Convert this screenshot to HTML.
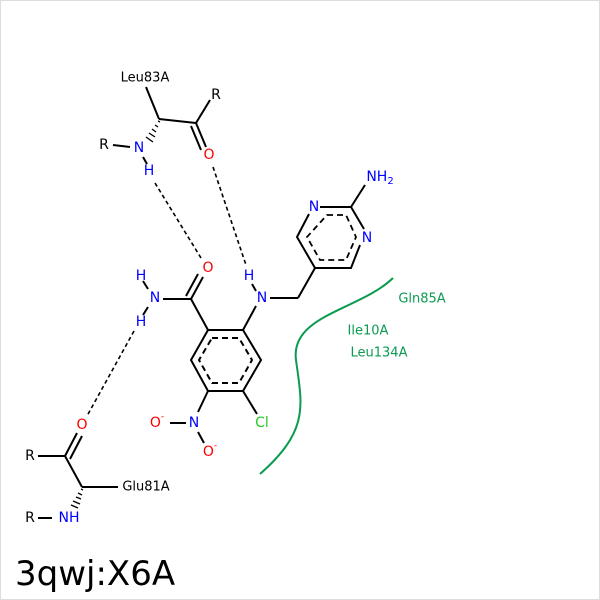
<!DOCTYPE html>
<html><head><style>body{margin:0;background:#fff}svg{display:block}</style></head><body>
<svg width="600" height="600" xmlns="http://www.w3.org/2000/svg" font-family="'DejaVu Sans',sans-serif" font-size="14">
<rect x="0.5" y="0.5" width="599" height="599" fill="#fff" stroke="#ddd"/>
<g stroke="#000" stroke-width="2" fill="none">
<polygon points="208,330 243,330 261,360 243,391 208,391 191,360"/>
<polygon points="212,338 239,338 252,360 239,383 212,383 199,360" stroke-dasharray="6,4"/>
<line x1="208" y1="330" x2="191" y2="299"/>
<line x1="191" y1="299" x2="163" y2="299"/>
<line x1="191" y1="299" x2="203" y2="277"/><line x1="186" y1="296" x2="198" y2="274"/>
<line x1="243" y1="330" x2="256" y2="306"/>
<line x1="270" y1="298" x2="298" y2="298"/>
<line x1="298" y1="298" x2="315" y2="268"/>
<line x1="208" y1="391" x2="198" y2="412"/>
<line x1="243" y1="391" x2="257" y2="414"/>
<line x1="170" y1="423" x2="186" y2="423"/>
<line x1="198" y1="432" x2="204" y2="443"/>
<line x1="148" y1="289" x2="143" y2="281"/><line x1="148" y1="307" x2="143" y2="315"/>
<line x1="256" y1="291" x2="252" y2="284"/>
<polyline points="320,207 351,207 364,229"/>
<polyline points="360,245 351,268 315,268 297,237 309,214"/>
<polygon points="327,215 346,215 356,237 346,260 320,260 307,237" stroke-dasharray="6,4" stroke-width="1.8"/>
<line x1="351" y1="207" x2="365" y2="185"/>
<line x1="146" y1="87" x2="159" y2="119"/>
<line x1="159" y1="119" x2="196" y2="123"/>
<line x1="196" y1="123" x2="210" y2="100"/>
<line x1="196" y1="123" x2="206" y2="147"/><line x1="191" y1="126" x2="201" y2="150"/>
<line x1="113" y1="145" x2="130" y2="147"/>
<line x1="143" y1="157" x2="147" y2="164"/>
<line x1="38" y1="456" x2="65" y2="456"/>
<line x1="65" y1="456" x2="77" y2="433"/><line x1="70" y1="459" x2="82" y2="436"/>
<line x1="65" y1="456" x2="82" y2="487"/>
<line x1="82" y1="487" x2="118" y2="487"/>
<line x1="38" y1="518" x2="52" y2="518"/>
</g>
<g stroke="#000" stroke-width="1.3">
<line x1="158" y1="121" x2="160" y2="122"/><line x1="155" y1="125" x2="158" y2="127"/><line x1="152" y1="129" x2="156" y2="132"/><line x1="149" y1="133" x2="155" y2="137"/><line x1="146" y1="137" x2="153" y2="142"/>
<line x1="81" y1="489" x2="83" y2="490"/><line x1="78" y1="493" x2="82" y2="495"/><line x1="76" y1="497" x2="81" y2="499"/><line x1="73" y1="501" x2="80" y2="504"/><line x1="71" y1="505" x2="78" y2="508"/>
</g>
<g stroke="#000" stroke-width="1.6" stroke-dasharray="4,3">
<line x1="155" y1="183" x2="201" y2="258"/>
<line x1="213" y1="167" x2="246" y2="265"/>
<line x1="134" y1="331" x2="87" y2="416"/>
</g>
<path d="M393,278 C360,310 290,315 296,360 C302,405 310,430 260,474" stroke="#0a9b50" stroke-width="2" fill="none"/>
<g text-anchor="middle" dominant-baseline="central">
<text x="145" y="78" font-size="13">Leu83A</text>
<text x="216" y="95">R</text>
<text x="104" y="145">R</text>
<text x="139" y="148" fill="#00f">N</text>
<text x="149" y="171" fill="#00f">H</text>
<text x="209" y="155" fill="#f00">O</text>
<text x="314" y="207" fill="#00f">N</text>
<text x="367" y="238" fill="#00f">N</text>
<text x="380" y="177" fill="#00f">NH<tspan font-size="10" dy="4">2</tspan></text>
<text x="208" y="268" fill="#f00">O</text>
<text x="141" y="276" fill="#00f">H</text>
<text x="155" y="298" fill="#00f">N</text>
<text x="141" y="322" fill="#00f">H</text>
<text x="249" y="276" fill="#00f">H</text>
<text x="262" y="298" fill="#00f">N</text>
<text x="157" y="423" fill="#f00">O<tspan font-size="9" dy="-6">-</tspan></text>
<text x="194" y="423" fill="#00f">N</text>
<text x="210" y="452" fill="#f00">O<tspan font-size="9" dy="-6">-</tspan></text>
<text x="262" y="423" fill="#2c2">Cl</text>
<text x="82" y="425" fill="#f00">O</text>
<text x="30" y="456">R</text>
<text x="146" y="487" font-size="13">Glu81A</text>
<text x="30" y="518">R</text>
<text x="69" y="518" fill="#00f">NH</text>
<text x="422" y="299" fill="#0a9b50" font-size="13">Gln85A</text>
<text x="368" y="331" fill="#0a9b50" font-size="13">Ile10A</text>
<text x="379" y="353" fill="#0a9b50" font-size="13">Leu134A</text>
</g>
<text x="15" y="585" font-size="34">3qwj:X6A</text>
</svg>
</body></html>
